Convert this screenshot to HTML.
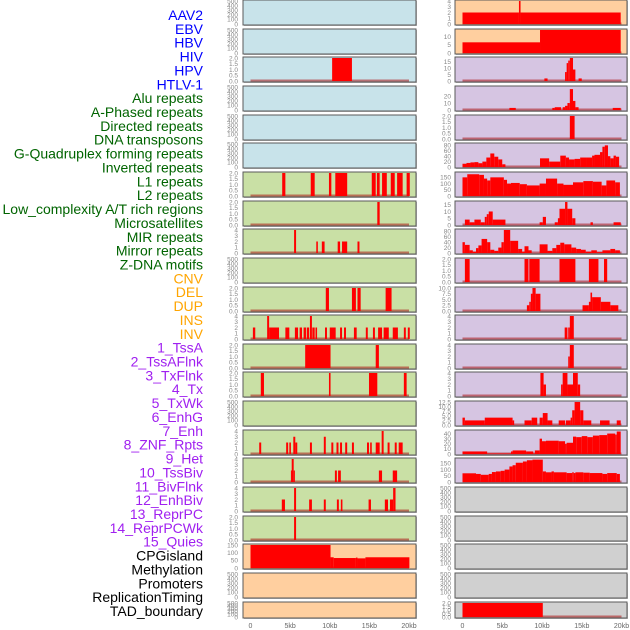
<!DOCTYPE html>
<html><head><meta charset="utf-8"><style>
html,body{margin:0;padding:0;background:#fff;width:630px;height:630px;overflow:hidden}
svg{display:block}
</style></head><body>
<svg id="chart" width="630" height="630" xmlns="http://www.w3.org/2000/svg" font-family="Liberation Sans, sans-serif"></svg>
<script>
// ---- labels ----
const labels = ["AAV2","EBV","HBV","HIV","HPV","HTLV-1","Alu repeats","A-Phased repeats","Directed repeats","DNA transposons","G-Quadruplex forming repeats","Inverted repeats","L1 repeats","L2 repeats","Low_complexity A/T rich regions","Microsatellites","MIR repeats","Mirror repeats","Z-DNA motifs","CNV","DEL","DUP","INS","INV","1_TssA","2_TssAFlnk","3_TxFlnk","4_Tx","5_TxWk","6_EnhG","7_Enh","8_ZNF_Rpts","9_Het","10_TssBiv","11_BivFlnk","12_EnhBiv","13_ReprPC","14_ReprPCWk","15_Quies","CPGisland","Methylation","Promoters","ReplicationTiming","TAD_boundary"];
const labelGroups = ["v","v","v","v","v","v","r","r","r","r","r","r","r","r","r","r","r","r","r","c","c","c","c","c","s","s","s","s","s","s","s","s","s","s","s","s","s","s","s","o","o","o","o","o"];
const xTickLabels = ["0","5kb","10kb","15kb","20kb"];
const xTickValues = [0,5,10,15,20];
// ---- tick sets ----
const T500 = [0,100,200,300,400,500];
const T2 = [0,0.5,1.0,1.5,2.0];
const T4 = [0,1,2,3,4];
const T150 = [0,50,100,150];
const T4b = [0,1,2,3,4];
const T10 = [0,5,10];
const T15 = [0,5,10,15];
const T20 = [0,10,20];
const T80 = [0,20,40,60,80];
const T10b = [0,2.5,5.0,7.5,10.0];
const T12 = [0,2.5,5.0,7.5,10.0,12.5];
const T40 = [0,10,20,30,40];
// ---- left column series: [startKb, endKb, value] ----
const L2 = [[10.3,12.8,2]];
const L6 = [[4.0,4.4,2],[7.6,8.1,2],[9.9,10.2,2],[10.7,12.2,2],[15.3,15.8,2],[15.95,16.3,2],[16.6,17.2,2],[17.7,18.2,2],[18.5,19.2,2],[19.7,20.1,2]];
const L7 = [[16.0,16.3,2]];
const L8 = [[5.5,5.75,4],[8.3,8.5,2],[9.0,9.35,2],[11.0,11.3,2],[11.55,12.2,2],[13.5,13.75,2]];
const L10 = [[9.5,9.9,2],[12.8,13.3,2],[13.5,13.9,2],[17.05,17.8,2]];
const L11 = [[0.3,0.6,2],[2.1,2.35,4],[2.35,3.6,2],[4.4,4.9,2],[5.6,6.0,2],[6.2,6.5,2],[6.7,7.0,2],[7.1,7.4,2],[7.5,7.75,4],[7.8,8.1,2],[8.2,8.4,2],[9.4,9.65,2],[10.0,10.75,2],[11.3,11.55,2],[11.8,12.05,2],[13.05,13.4,2],[14.55,14.8,2],[15.45,15.7,2],[16.1,16.6,2],[16.8,17.45,2],[17.95,18.6,2],[19.35,19.6,2],[19.85,20.1,2]];
const L12 = [[6.9,10.1,2],[15.8,16.2,2]];
const L13 = [[1.3,1.7,2],[9.9,10.1,2],[14.95,16.0,2],[19.35,19.7,2]];
const L15 = [[1.1,1.35,2],[4.5,4.75,2],[4.9,5.1,2],[5.4,5.65,3],[5.65,5.9,2],[7.5,7.75,2],[9.25,9.5,3],[10.2,10.45,2],[10.85,11.1,2],[11.3,11.55,2],[11.95,12.2,2],[12.8,13.05,2],[14.7,14.95,2],[15.1,15.3,2],[15.8,16.3,2],[16.55,16.8,4],[17.3,17.55,2],[18.2,18.45,2],[18.7,19.2,2]];
const L16 = [[5.1,5.2,2],[5.2,5.45,4],[5.45,5.6,2],[10.65,10.9,2],[11.05,11.4,2],[16.2,16.6,2],[17.95,18.5,2]];
const L17 = [[3.95,4.35,2],[5.5,5.75,4],[7.4,7.75,2],[9.25,9.5,2],[10.9,11.15,2],[11.4,11.6,2],[14.9,15.2,2],[16.95,17.35,2],[17.6,18.0,2],[18.0,18.3,4]];
const L18 = [[5.5,5.75,2]];
const L19 = [[0,10.1,150],[10.1,10.5,70],[10.5,13.3,65],[13.3,13.5,68],[13.5,14.5,63],[14.5,20.05,70]];
// ---- right column series ----
const R0 = [[0,7.1,2],[7.1,7.3,4],[7.3,19.9,2]];
const R1 = [[0,9.75,6.5],[9.75,19.9,14]];
const R2 = [[10.3,10.7,2],[12.9,13.1,7],[13.1,13.3,14],[13.3,13.5,16],[13.5,13.9,18],[13.9,14.2,9],[14.6,15.0,2]];
const R3 = [[5.9,6.7,3],[11.3,11.6,3],[11.6,12.4,4],[12.6,12.9,4],[12.9,13.2,6],[13.2,13.5,10],[13.5,13.9,30],[13.9,14.2,13],[14.2,14.6,4],[18.9,19.9,3]];
const R4 = [[13.5,14.1,2]];
const R5 = [[0,0.5,12],[0.5,1,15],[1,1.5,17],[1.5,2,18],[2,2.5,14],[2.5,3,20],[3,3.5,35],[3.5,4,50],[4,4.5,38],[4.5,5,28],[5,5.4,10],[9.75,10.9,32],[10.9,12.3,20],[12.3,13,42],[13,13.4,35],[13.4,14.1,28],[14.1,14.8,30],[14.8,15.6,35],[15.6,16.3,35],[16.3,16.6,42],[16.6,17.3,45],[17.3,17.6,55],[17.6,17.9,75],[17.9,18.3,80],[18.3,18.6,40],[18.6,19,32],[19,19.3,42],[19.3,19.7,38]];
const R6 = [[0,0.6,150],[0.6,2.1,175],[2.1,2.7,170],[2.7,3.1,140],[3.1,3.5,125],[3.5,5.2,150],[5.2,5.6,130],[5.6,6.1,100],[6.1,7.2,105],[7.2,8.1,95],[8.1,9.7,85],[9.7,10.5,100],[10.5,11.9,140],[11.9,12.7,100],[12.7,13.9,90],[13.9,15.2,110],[15.2,16.4,120],[16.4,17.5,115],[17.5,18.1,85],[18.1,19.2,125],[19.2,19.8,110]];
const R7 = [[0.3,0.9,4],[0.9,1.5,2],[1.5,2.3,4],[2.3,2.8,2],[2.8,3.05,6],[3.05,3.3,8],[3.3,3.8,10],[3.8,5.4,4],[9.7,10.1,2],[10.1,10.5,6],[11.6,12.0,2],[12.0,12.2,5],[12.2,12.9,12],[12.9,13.2,17],[13.2,13.8,12],[13.8,14.2,5],[16.1,16.4,2],[19.0,19.9,2]];
const R8 = [[0,0.3,40],[0.3,0.9,30],[0.9,1.3,10],[1.3,1.7,5],[1.7,2.0,18],[2.0,2.4,28],[2.4,3.1,52],[3.1,3.5,40],[3.5,4.0,12],[4.0,4.5,8],[4.5,4.9,20],[4.9,5.2,40],[5.2,6.0,85],[6.0,7.0,45],[7.0,7.5,15],[7.5,7.8,5],[7.8,8.3,25],[8.3,8.7,10],[9.7,10.7,32],[10.7,11.3,8],[11.3,11.8,18],[11.8,12.3,30],[12.3,12.8,38],[12.8,13.7,32],[13.7,14.3,20],[14.3,14.9,15],[14.9,15.5,12],[15.5,16.2,5],[16.2,16.9,10],[16.9,17.6,3],[17.6,18.6,10],[18.6,19.2,15],[19.2,19.8,10]];
const R9 = [[0.3,0.9,2],[7.8,8.3,2],[8.4,9.7,2],[12.2,14.2,2],[15.9,17.1,2],[17.8,18.2,2]];
const R10 = [[8.1,8.4,2.5],[8.4,8.6,4],[8.6,8.8,7.5],[8.8,9.2,10],[9.2,9.8,7.5],[15.1,15.9,2.5],[15.9,16.1,4],[16.1,16.3,8],[16.3,17.4,6],[17.4,18.6,4],[18.6,19.6,2.5]];
const R11 = [[12.85,13.2,2],[13.3,13.5,2],[13.5,14.0,4]];
const R12 = [[13.3,13.5,2],[13.5,14.0,4]];
const R13 = [[9.8,10.2,4],[10.2,10.5,2],[12.4,12.6,2],[12.6,13.2,4],[13.2,13.9,2],[13.9,14.5,4],[14.5,14.8,2]];
const R14 = [[0,0.3,4],[0.3,2.8,2.5],[2.8,6.3,4],[6.3,6.5,2.5],[7.8,8.7,2.5],[8.7,9.4,4],[9.7,10.1,4],[10.1,10.7,6.5],[10.7,11.3,2.5],[12.1,12.9,2.5],[13.0,13.6,2.5],[13.6,13.8,4],[13.8,14.1,8],[14.1,14.8,12.5],[14.8,15.2,8],[15.2,16.2,2.5],[17.3,18.5,2.5],[19.4,19.9,2.5]];
const R15 = [[0,3.1,5],[3.1,6.1,1],[6.1,6.3,5],[6.3,8.0,7],[8.0,8.9,5],[8.9,9.1,1],[9.1,9.7,7],[9.7,10.0,30],[10.0,10.5,25],[10.5,12.1,26],[12.1,12.9,25],[12.9,13.1,20],[13.1,13.9,22],[13.9,14.3,34],[14.3,15.0,33],[15.0,15.7,35],[15.7,16.4,33],[16.4,17.2,36],[17.2,18.2,37],[18.2,19.2,40],[19.2,19.4,38],[19.4,19.9,44]];
const R16 = [[0,1.7,70],[1.7,2.3,65],[2.3,3.3,58],[3.3,3.7,65],[3.7,4.2,80],[4.2,4.8,85],[4.8,5.3,90],[5.3,5.9,100],[5.9,6.3,125],[6.3,6.7,135],[6.7,7.6,155],[7.6,8.1,165],[8.1,8.8,175],[8.8,10.1,180],[10.1,10.5,85],[10.5,11.2,78],[11.2,11.5,85],[11.5,13.1,78],[13.1,13.8,72],[13.8,14.0,78],[14.0,14.2,72],[14.2,15.2,78],[15.2,16.0,75],[16.0,17.6,72],[17.6,18.2,65],[18.2,19.4,72],[19.4,19.8,65]];
const R21 = [[0,10.1,2]];

const BL="#c8e3ea", GR="#c9e0a5", OR="#ffcf9f", PU="#d6c5e2", GY="#d0d0d0";
const leftCfg = [
 [BL,500,T500,null],[BL,500,T500,null],[BL,2,T2,L2],[BL,500,T500,null],[BL,500,T500,null],[BL,500,T500,null],
 [GR,2,T2,L6],[GR,2,T2,L7],[GR,4,T4,L8],[GR,500,T500,null],[GR,2,T2,L10],[GR,4,T4,L11],[GR,2,T2,L12],[GR,2,T2,L13],
 [GR,500,T500,null],[GR,4,T4,L15],[GR,4,T4,L16],[GR,4,T4,L17],[GR,2,T2,L18],
 [OR,150,T150,L19],[OR,500,T500,null],[OR,500,T500,null]
];
const rightCfg = [
 [OR,4,T4b,R0],[OR,14,T10,R1],[PU,18,T15,R2],[PU,33,T20,R3],[PU,2,T2,R4],[PU,85,T80,R5],[PU,185,T150,R6],
 [PU,17,T15,R7],[PU,85,T80,R8],[PU,2,T2,R9],[PU,10,T10b,R10],[PU,4,T4,R11],[PU,4,T4,R12],[PU,4,T4,R13],
 [PU,12.5,T12,R14],[PU,45,T40,R15],[PU,185,T150,R16],
 [GY,500,T500,null],[GY,500,T500,null],[GY,500,T500,null],[GY,500,T500,null],[GY,2,T2,R21]
];

const NS="http://www.w3.org/2000/svg";
const svg=document.getElementById('chart');
function mk(tag,attrs,parent){const e=document.createElementNS(NS,tag);for(const k in attrs)e.setAttribute(k,attrs[k]);(parent||svg).appendChild(e);return e;}

const gColors={v:"#0000ff",r:"#006400",c:"#ffa500",s:"#a020f0",o:"#000000"};
const lblStep=(611-15)/43;
labels.forEach((t,i)=>{
  const e=mk('text',{x:203,y:(15+i*lblStep+5).toFixed(1),'text-anchor':'end','font-size':'14',fill:gColors[labelGroups[i]]});
  e.textContent=t;
  
  
});

function panel(cfg,i,col){
  const [bg,ymax,ticks,series]=cfg;
  const left = col===0 ? 243 : 455, right = col===0 ? 416 : 627;
  const x0 = col===0 ? 250.5 : 462.5, x20 = col===0 ? 409 : 621.5;
  const xs = kb => x0 + kb/20*(x20-x0);
  const top = Math.round(i*28.65), h = i===21 ? 16 : 25;
  const ys = v => top + h - 1 - Math.min(v,ymax)/ymax*(h-2);
  const g=mk('g',{});
  
  
  mk('rect',{x:left+1,y:top+1,width:right-left,height:h,fill:'#bbb'},g);
  mk('rect',{x:left,y:top,width:right-left,height:h,fill:bg,stroke:'#5a5a5a','stroke-width':1},g);
  ticks.forEach(t=>{
    const e=mk('text',{x:col===0?238:451,y:(ys(t)+2.3).toFixed(1),'text-anchor':'end','font-size':'6.5',fill:'#888'},g);
    e.textContent=(ticks===T2||ticks===T10b||ticks===T12)?t.toFixed(1):String(t);
    
    
  });
  if(series){
    mk('line',{x1:xs(0),x2:xs(20),y1:ys(0)-0.5,y2:ys(0)-0.5,stroke:'rgba(170,20,20,0.55)','stroke-width':2},g);
    series.forEach(s=>{
      const r=mk('rect',{x:xs(s[0]).toFixed(2),y:ys(s[2]).toFixed(2),width:Math.max(1,xs(s[1])-xs(s[0])).toFixed(2),height:(ys(0)-ys(s[2])).toFixed(2),fill:'#ff0000'},g);
      
      
    });
  }
}
leftCfg.forEach((c,i)=>panel(c,i,0));
rightCfg.forEach((c,i)=>panel(c,i,1));

[[250.5,409],[462.5,621.5]].forEach((p,ci)=>{
  xTickValues.forEach((v,k)=>{
    const e=mk('text',{x:(p[0]+v/20*(p[1]-p[0])).toFixed(1),y:628,'text-anchor':'middle','font-size':'7',fill:'#666'});
    e.textContent=xTickLabels[k];
    
    
  });
});
</script>
</body></html>
